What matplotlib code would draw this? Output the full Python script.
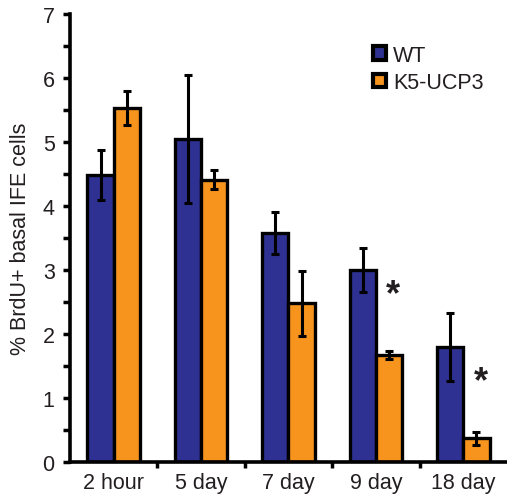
import numpy as np
import matplotlib.pyplot as plt
from matplotlib.patches import Patch
from matplotlib.ticker import MultipleLocator

plt.rcParams['font.family'] = ['Liberation Sans', 'DejaVu Sans']
text_color = '#231F20'
plt.rcParams['text.color'] = text_color
plt.rcParams['axes.labelcolor'] = text_color
plt.rcParams['xtick.labelcolor'] = text_color
plt.rcParams['ytick.labelcolor'] = text_color

# data
categories = ['2 hour', '5 day', '7 day', '9 day', '18 day']
wt_mean = [4.49, 5.04, 3.58, 3.00, 1.79]
wt_err = [0.39, 1.00, 0.33, 0.35, 0.53]
ucp3_mean = [5.53, 4.41, 2.48, 1.67, 0.37]
ucp3_err = [0.27, 0.15, 0.51, 0.07, 0.10]
star_y = [None, None, None, 2.62, 1.26]  # height of the significance star

wt_color = '#2E3192'
ucp3_color = '#F7941D'

fig = plt.figure(figsize=(5.07, 5.02), dpi=100)
ax = fig.add_axes([0.138, 0.078, 0.862, 0.892])

x = np.arange(len(categories))
w = 0.3
err_kw = dict(ecolor='black', elinewidth=2.2, capsize=2.8, capthick=2.2)

ax.bar(x - w / 2, wt_mean, w, yerr=wt_err, color=wt_color,
       edgecolor='black', linewidth=2.4, error_kw=err_kw)
ax.bar(x + w / 2, ucp3_mean, w, yerr=ucp3_err, color=ucp3_color,
       edgecolor='black', linewidth=2.4, error_kw=err_kw)

# significance stars
for i, sy in enumerate(star_y):
    if sy is not None:
        ax.text(i + 0.2, sy, '*', fontsize=26, fontweight='bold',
                ha='center', va='center')

ax.set_xlim(-0.5, 4.5)
ax.set_ylim(0, 7)
ax.yaxis.set_major_locator(MultipleLocator(1))
ax.yaxis.set_minor_locator(MultipleLocator(0.5))
ax.set_xticks(x)
ax.set_xticklabels(categories, fontsize=15.5)
ax.tick_params(axis='x', length=0, pad=7)
ax.set_xticks(np.arange(0.5, 4.5, 1), minor=True)
ax.tick_params(axis='x', which='minor', length=4, width=2.5)
ax.tick_params(axis='y', which='both', length=5, width=2.5, labelsize=15.5, pad=6)
ax.set_ylabel('% BrdU+ basal IFE cells', fontsize=15.5, labelpad=8)

for s in ['top', 'right']:
    ax.spines[s].set_visible(False)
for s in ['left', 'bottom']:
    ax.spines[s].set_linewidth(2.6)

handles = [Patch(facecolor=wt_color, edgecolor='black', linewidth=3, label='WT'),
           Patch(facecolor=ucp3_color, edgecolor='black', linewidth=3, label='K5-UCP3')]
ax.legend(handles=handles, loc='upper left', bbox_to_anchor=(0.65, 0.975),
          frameon=False, fontsize=15.5, handlelength=0.6, handleheight=0.6,
          handletextpad=0.3, labelspacing=0.3)

fig.savefig('out.png', dpi=100)
